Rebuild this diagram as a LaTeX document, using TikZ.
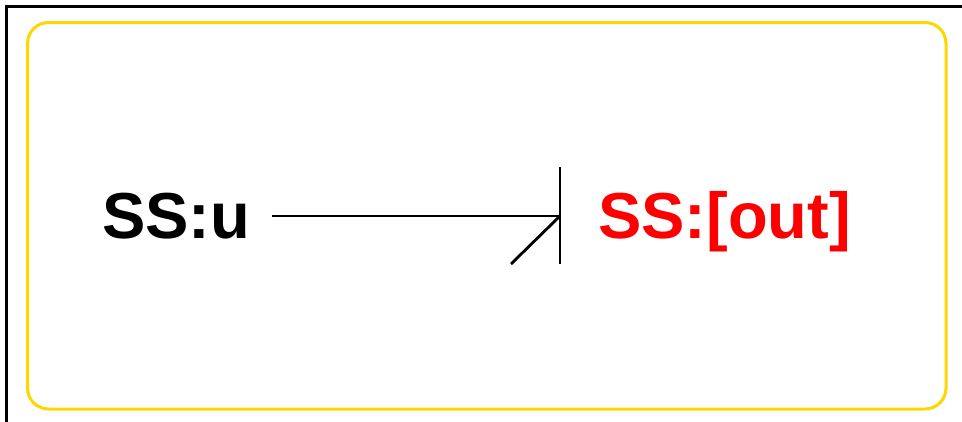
\documentclass[tikz,border=0pt]{standalone}
\usepackage{fontspec}
\setmainfont{Liberation Sans}
\begin{document}
\begin{tikzpicture}[x=1pt,y=-1pt,
  lbl/.style={font=\fontsize{65}{70}\selectfont\bfseries, inner sep=0pt, anchor=base west},
  conn/.style={line width=2.8pt, black}]
\useasboundingbox (0,0) rectangle (962,421);
\clip (0,0) rectangle (962,421);
\draw[line width=3pt] (6,6) rectangle (1100,600);
\draw[line width=3pt, color={rgb,255:red,255;green,215;blue,0}, rounded corners=21pt] (27.5,22.5) rectangle (946,409);
\node[lbl] (a) at (102,238) {SS:u};
\node[lbl, text={rgb,255:red,255;green,0;blue,0}] (b) at (598,238) {SS:[out]};
\coordinate (tip) at (560,216);
\coordinate (bartop) at (560,167);
\coordinate (barbot) at (560,264);
\coordinate (diag) at (511,264);
\draw[conn] ([xshift=22pt]a.east |- tip) -- (tip);
\draw[conn] (bartop) -- (barbot);
\draw[conn] (diag) -- (tip);
\end{tikzpicture}
\end{document}
